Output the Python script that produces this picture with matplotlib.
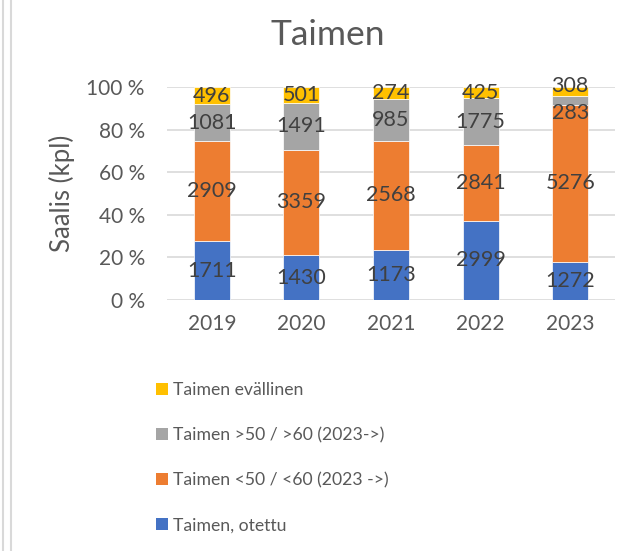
import matplotlib
matplotlib.use("Agg")
import matplotlib.pyplot as plt
from matplotlib.lines import Line2D
from matplotlib.patches import Patch
import numpy as np

years = ["2019", "2020", "2021", "2022", "2023"]
otettu = [1711, 1430, 1173, 2999, 1272]
alle = [2909, 3359, 2568, 2841, 5276]
yli = [1081, 1491, 985, 1775, 283]
evallinen = [496, 501, 274, 425, 308]

series = [
    ("Taimen, otettu", otettu, "#4472C4"),
    ("Taimen <50 / <60 (2023 ->)", alle, "#ED7D31"),
    ("Taimen >50 / >60 (2023->)", yli, "#A5A5A5"),
    ("Taimen evällinen", evallinen, "#FFC000"),
]

plt.rcParams['font.family'] = ['Lato', 'DejaVu Sans']
fig = plt.figure(figsize=(6.43, 5.51), dpi=100)
ax = fig.add_axes([167/643, 1-300/551, 448/643, 213/551])

totals = np.sum([np.array(s[1]) for s in series], axis=0)
x = np.arange(len(years))
bottom = np.zeros(len(years))
containers = []
for name, vals, col in series:
    pct = np.array(vals) / totals * 100
    bc = ax.bar(x, pct, 0.4, bottom=bottom, color=col, edgecolor="white", linewidth=0.5, label=name, zorder=3)
    containers.append((bc, vals))
    bottom += pct

for i, (bc, vals) in enumerate(containers):
    texts = ax.bar_label(bc, labels=[str(v) for v in vals], label_type="center",
                         fontsize=15.5, color="#404040", zorder=4)
    # Excel nudges crowded labels in the last bar
    if i == 2:
        texts[4].xyann = (0, -9)
    if i == 3:
        texts[4].xyann = (0, 4)

ax.set_ylim(0, 100)
ax.set_xlim(-0.5, 4.5)
ax.set_yticks(np.arange(0, 101, 20))
ax.set_yticklabels([f"{v} %" for v in range(0, 101, 20)])
ax.set_xticks(x)
ax.set_xticklabels(years)
ax.tick_params(axis="both", length=0, labelsize=15, labelcolor="#595959")
ax.tick_params(axis="y", pad=16)
ax.tick_params(axis="x", pad=10)
ax.grid(axis="y", color="#D9D9D9", linewidth=1.2, zorder=0)
for s in ax.spines.values():
    s.set_visible(False)
ax.set_ylabel("Saalis (kpl)", fontsize=18.5, color="#595959", labelpad=8)

fig.text(328/643, 1-35/551, "Taimen", ha="center", va="center", fontsize=25.5, color="#595959")

handles = [Patch(facecolor=c, edgecolor="none") for _, _, c in series[::-1]]
labels = [n for n, _, _ in series[::-1]]
fig.legend(handles, labels, loc="upper left", bbox_to_anchor=(140/643, 1-366/551),
           frameon=False, fontsize=12.7, labelcolor="#595959", handlelength=0.7,
           handleheight=0.7, handletextpad=0.25, labelspacing=1.65)

for xp in (2.5, 10.5):
    fig.add_artist(Line2D([xp/643, xp/643], [0, 1], color="#D9D9D9", linewidth=1.5))

fig.savefig("out.png", dpi=100)
